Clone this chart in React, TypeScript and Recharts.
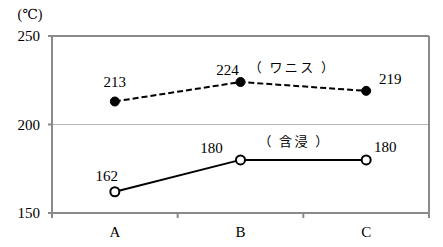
import React from 'react';
import { LineChart, Line, XAxis, YAxis, ReferenceLine, LabelList } from 'recharts';

const categories = ['A', 'B', 'C'];
const varnish = [213, 224, 219];
const impregnation = [162, 180, 180];
const yTicks = [150, 200, 250];
const varnishName = '（ ワニス ）';
const impregnationName = '（ 含浸 ）';
const unitLabel = '(℃)';

const data = categories.map((c, i) => ({
  cat: c,
  pos: i + 0.5,
  varnish: varnish[i],
  impregnation: impregnation[i],
}));

// boundaries (tick marks) and centers (labels) of the category bands
const xTicks: number[] = [];
for (let i = 0; i <= categories.length; i++) {
  xTicks.push(i);
  if (i < categories.length) xTicks.push(i + 0.5);
}

const NUM_FONT = "'Liberation Serif', 'DejaVu Serif', serif";
const JP_FONT = "'Noto Sans CJK JP', sans-serif";
const AXIS = '#8a8a8a';

const varnishOffsets = [
  [0, -19],
  [-13, -12],
  [24, -12],
];
const impregOffsets = [
  [-8, -16],
  [-29, -12],
  [19, -13],
];

const makeLabel = (offsets: number[][], note: string, noteOffset: number[]) => (props: any) => {
  const { x, y, value, index } = props;
  const [dx, dy] = offsets[index];
  return (
    <g>
      <text
        x={x + dx}
        y={y + dy}
        textAnchor="middle"
        dominantBaseline="central"
        style={{ fontFamily: NUM_FONT, fontSize: 15 }}
        fill="#000"
      >
        {value}
      </text>
      {index === 1 ? (
        <text
          x={x + noteOffset[0]}
          y={y + noteOffset[1]}
          textAnchor="middle"
          dominantBaseline="central"
          style={{ fontFamily: JP_FONT, fontSize: 13, whiteSpace: 'pre', letterSpacing: 2.4 }}
          fill="#000"
        >
          {note}
        </text>
      ) : null}
    </g>
  );
};

const XTick = (props: any) => {
  const { x, y, payload } = props;
  const v = payload.value;
  if (Number.isInteger(v)) {
    return <line x1={x} y1={y} x2={x} y2={y + 5} stroke={AXIS} strokeWidth={2} />;
  }
  return (
    <text
      x={x}
      y={y + 19}
      textAnchor="middle"
      dominantBaseline="central"
      style={{ fontFamily: NUM_FONT, fontSize: 15 }}
      fill="#000"
    >
      {categories[Math.floor(v)]}
    </text>
  );
};

const YTick = (props: any) => {
  const { x, y, payload } = props;
  return (
    <text x={x} y={y} textAnchor="end" dominantBaseline="central" style={{ fontFamily: NUM_FONT, fontSize: 15 }} fill="#000">
      {payload.value}
    </text>
  );
};

const openDot = (props: any) => (
  <circle key={props.index} cx={props.cx} cy={props.cy} r={4.5} fill="#fff" stroke="#000" strokeWidth={2} />
);
const filledDot = (props: any) => (
  <circle key={props.index} cx={props.cx} cy={props.cy} r={4.5} fill="#000" stroke="#000" strokeWidth={1} />
);

export default function App() {
  return (
    <div style={{ position: 'absolute', left: 0, top: 0, width: 443, height: 247, background: '#fff' }}>
      <svg style={{ position: 'absolute', left: 0, top: 0 }} width={443} height={247}>
        <text
          x={30}
          y={14}
          textAnchor="middle"
          dominantBaseline="central"
          style={{ fontFamily: NUM_FONT, fontSize: 14 }}
          fill="#000"
        >
          {unitLabel}
        </text>
      </svg>
      <LineChart
        width={443}
        height={247}
        data={data}
        margin={{ top: 36, right: 14, bottom: 0, left: 0 }}
        style={{ position: 'absolute', left: 0, top: 0 }}
      >
        <XAxis
          dataKey="pos"
          type="number"
          domain={[0, categories.length]}
          ticks={xTicks}
          interval={0}
          tick={<XTick />}
          tickLine={false}
          tickSize={0}
          tickMargin={0}
          axisLine={{ stroke: AXIS, strokeWidth: 2 }}
          height={34}
        />
        <YAxis
          domain={[150, 250]}
          ticks={yTicks}
          width={52}
          axisLine={{ stroke: AXIS, strokeWidth: 2 }}
          tickLine={{ stroke: AXIS, strokeWidth: 2 }}
          tickSize={4}
          tickMargin={8}
          tick={<YTick />}
        />
        <ReferenceLine y={200} stroke="#b5b5b5" strokeWidth={1} ifOverflow="visible" />
        <ReferenceLine y={250} stroke={AXIS} strokeWidth={2} ifOverflow="visible" />
        <ReferenceLine x={categories.length} stroke={AXIS} strokeWidth={2} ifOverflow="visible" />
        <Line
          dataKey="varnish"
          stroke="#000"
          strokeWidth={2}
          strokeDasharray="6 3"
          dot={filledDot}
          isAnimationActive={false}
        >
          <LabelList dataKey="varnish" content={makeLabel(varnishOffsets, varnishName, [52, -16])} />
        </Line>
        <Line
          dataKey="impregnation"
          stroke="#000"
          strokeWidth={2}
          dot={openDot}
          isAnimationActive={false}
        >
          <LabelList dataKey="impregnation" content={makeLabel(impregOffsets, impregnationName, [54, -19])} />
        </Line>
      </LineChart>
    </div>
  );
}
